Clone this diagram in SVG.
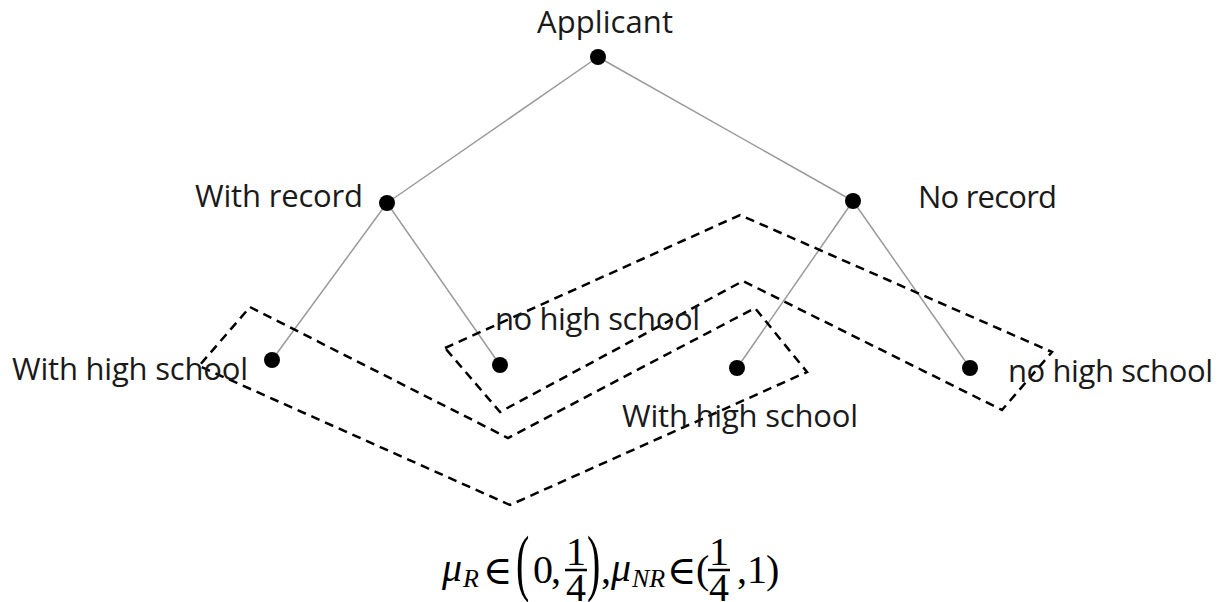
<svg xmlns="http://www.w3.org/2000/svg" width="1225" height="602" viewBox="0 0 1225 602">
<style>
.lbl{font-family:"Open Sans","Liberation Sans",sans-serif;font-size:31px;fill:#1a1a1a}
.edge{stroke:#9a9a9a;stroke-width:1.5;fill:none}
.info{stroke:#000;stroke-width:2.5;stroke-dasharray:9 6;fill:none}
.dot{fill:#000}
.m{font-family:"Liberation Serif","DejaVu Serif",serif;font-size:40px;fill:#000}
.el{font-family:"DejaVu Serif",serif;font-size:40px;fill:#000}
.mi{font-family:"Liberation Serif","DejaVu Serif",serif;font-size:40px;font-style:italic;fill:#000}
.sub{font-family:"Liberation Serif","DejaVu Serif",serif;font-size:26px;font-style:italic;fill:#000}
</style>
<rect width="1225" height="602" fill="#fff"/>
<g id="connectors">
<line class="edge" x1="598" y1="57" x2="387" y2="203"/>
<line class="edge" x1="598" y1="57" x2="853" y2="201"/>
<line class="edge" x1="387" y1="203" x2="272" y2="360"/>
<line class="edge" x1="387" y1="203" x2="500" y2="365"/>
<line class="edge" x1="853" y1="201" x2="737" y2="368"/>
<line class="edge" x1="853" y1="201" x2="970" y2="368"/>
</g>
<g id="info-sets">
<polygon id="info-high-school" class="info" points="250,307 508,438 755,308 807,372 510,505 199,366"/>
<polygon id="info-no-high-school" class="info" points="445,348 740,215 1052,352 1002,410 743,281 500,412"/>
</g>
<g id="applicant"><circle class="dot" cx="598" cy="57" r="8"/><text class="lbl" x="537" y="33" textLength="136">Applicant</text></g>
<g id="with-record"><circle class="dot" cx="387" cy="203" r="8"/><text class="lbl" x="195" y="207" textLength="168">With record</text></g>
<g id="no-record"><circle class="dot" cx="853" cy="201" r="8"/><text class="lbl" x="918" y="208" textLength="139">No record</text></g>
<g id="r-high-school"><circle class="dot" cx="272" cy="360" r="8"/><text class="lbl" x="12" y="380" textLength="236">With high school</text></g>
<g id="r-no-high-school"><circle class="dot" cx="500" cy="365" r="8"/><text class="lbl" x="495" y="330" textLength="205">no high school</text></g>
<g id="nr-high-school"><circle class="dot" cx="737" cy="368" r="8"/><text class="lbl" x="622" y="427" textLength="236">With high school</text></g>
<g id="nr-no-high-school"><circle class="dot" cx="970" cy="368" r="8"/><text class="lbl" x="1008" y="382" textLength="205">no high school</text></g>
<g id="beliefs">
<text class="mi" x="442" y="581">μ</text>
<text class="sub" x="463" y="587">R</text>
<text class="el" x="483" y="584">∈</text>
<text class="m" transform="translate(516,570) scale(1,1.85)" x="0" y="9">(</text>
<text class="m" x="533" y="583">0</text>
<text class="m" x="551" y="583">,</text>
<text class="m" x="576" y="565" text-anchor="middle">1</text>
<line x1="565" y1="570" x2="587" y2="570" stroke="#000" stroke-width="2.5"/>
<text class="m" x="576" y="601" text-anchor="middle">4</text>
<text class="m" transform="translate(587,570) scale(1,1.85)" x="0" y="9">)</text>
<text class="m" x="601" y="583">,</text>
<text class="mi" x="611" y="581">μ</text>
<text class="sub" x="632" y="587">NR</text>
<text class="el" x="667" y="584">∈</text>
<text class="m" x="696" y="583">(</text>
<text class="m" x="719" y="565" text-anchor="middle">1</text>
<line x1="708" y1="570" x2="730" y2="570" stroke="#000" stroke-width="2.5"/>
<text class="m" x="719" y="601" text-anchor="middle">4</text>
<text class="m" x="737" y="583">,</text>
<text class="m" x="747" y="583">1</text>
<text class="m" x="766" y="583">)</text>
</g>
</svg>
